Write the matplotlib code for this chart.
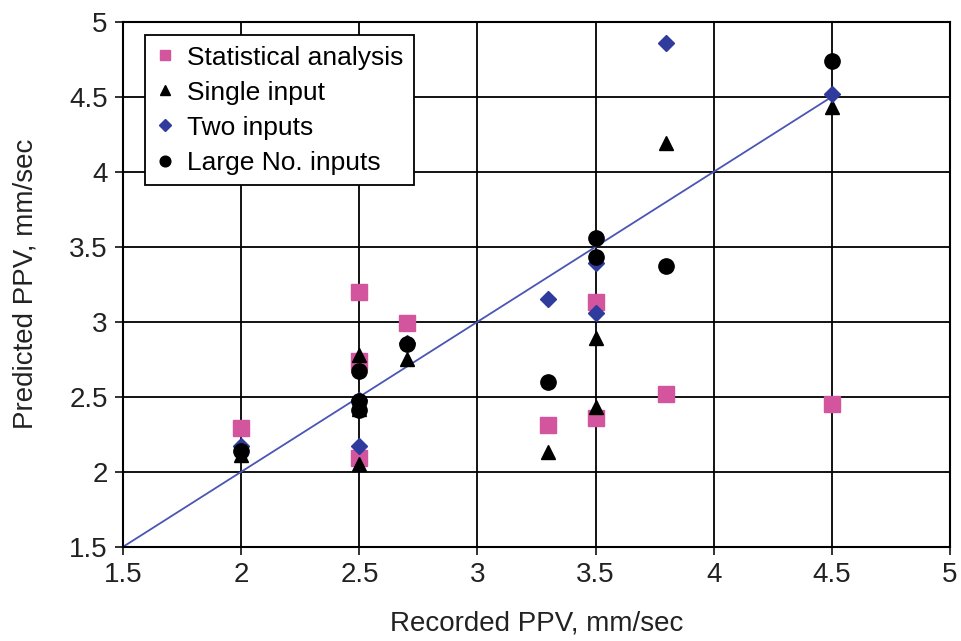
import matplotlib
matplotlib.use("Agg")
import matplotlib.pyplot as plt

plt.rcParams['font.family'] = ['Liberation Sans', 'DejaVu Sans']

stat_x = [2.0, 2.5, 2.5, 2.5, 2.7, 3.3, 3.5, 3.5, 3.8, 4.5]
stat_y = [2.29, 3.20, 2.74, 2.09, 2.99, 2.31, 3.13, 2.36, 2.52, 2.45]

single_x = [2.0, 2.5, 2.5, 2.5, 2.7, 3.3, 3.5, 3.5, 3.8, 4.5]
single_y = [2.11, 2.78, 2.42, 2.05, 2.75, 2.13, 2.89, 2.43, 4.19, 4.43]

two_x = [2.0, 2.5, 2.5, 2.7, 3.3, 3.5, 3.5, 3.8, 4.5]
two_y = [2.17, 2.17, 2.48, 2.86, 3.15, 3.39, 3.06, 4.86, 4.52]

large_x = [2.0, 2.5, 2.5, 2.5, 2.7, 3.3, 3.5, 3.5, 3.8, 4.5]
large_y = [2.14, 2.67, 2.47, 2.41, 2.85, 2.60, 3.56, 3.43, 3.37, 4.74]

line_x = [1.5, 4.5]
line_y = [1.5, 4.5]

ticks = [1.5, 2, 2.5, 3, 3.5, 4, 4.5, 5]
tick_labels = ['1.5', '2', '2.5', '3', '3.5', '4', '4.5', '5']

fig = plt.figure(figsize=(9.62, 6.41), dpi=100)
ax = fig.add_axes([0.128, 0.147, 0.8595, 0.819])

ax.plot(line_x, line_y, color='#4a55b5', lw=1.3, zorder=2)
ax.plot(stat_x, stat_y, 's', color='#d2559e', ms=11, ls='none', label='Statistical analysis', zorder=3)
ax.plot(single_x, single_y, '^', color='black', ms=10, ls='none', label='Single input', zorder=4)
ax.plot(two_x, two_y, 'D', color='#2f3c9e', ms=8.5, ls='none', label='Two inputs', zorder=5)
ax.plot(large_x, large_y, 'o', color='black', ms=11, ls='none', label='Large No. inputs', zorder=6)

ax.set_xlim(1.5, 5)
ax.set_ylim(1.5, 5)
ax.set_xticks(ticks)
ax.set_xticklabels(tick_labels)
ax.set_yticks(ticks)
ax.set_yticklabels(tick_labels)
ax.grid(True, color='black', lw=1.3)
ax.set_axisbelow(True)
for s in ax.spines.values():
    s.set_linewidth(1.5)
ax.tick_params(direction='out', length=6, width=1.3, labelsize=20, colors='#222222', pad=5)

ax.set_xlabel('Recorded PPV, mm/sec', fontsize=20, color='#222222', labelpad=16)
ax.set_ylabel('Predicted PPV, mm/sec', fontsize=20, color='#222222', labelpad=22)

leg = ax.legend(loc='upper left', bbox_to_anchor=(0.02, 0.985), fontsize=19,
                frameon=True, fancybox=False, edgecolor='black', framealpha=1,
                handlelength=0.7, handletextpad=0.5, borderpad=0.4, labelspacing=0.42,
                markerscale=0.7, borderaxespad=0.2)
leg.get_frame().set_linewidth(1.3)

fig.savefig('out.png', dpi=100)
